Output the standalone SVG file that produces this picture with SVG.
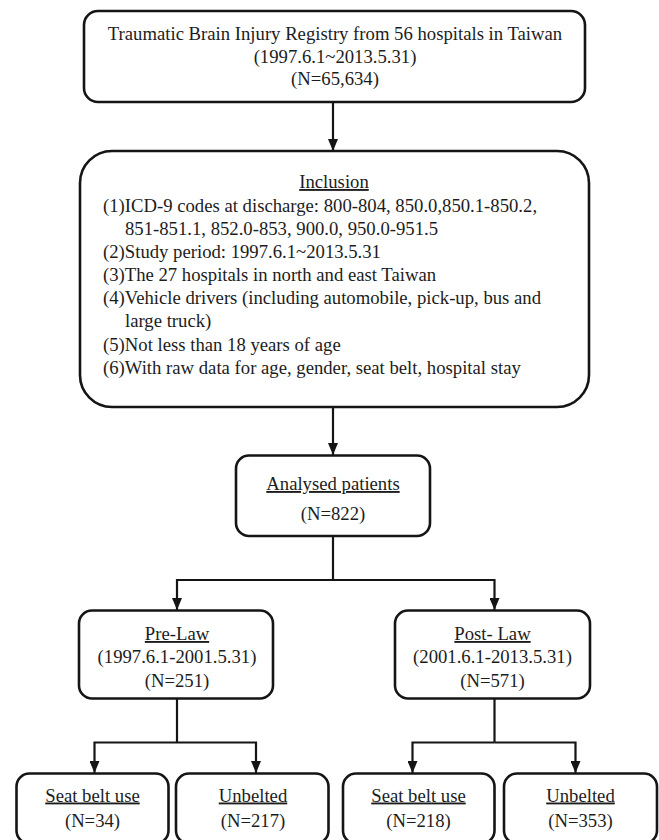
<svg xmlns="http://www.w3.org/2000/svg" width="659" height="840" viewBox="0 0 659 840">
<style>
  .box { fill: #ffffff; stroke: #151515; stroke-width: 2.6; }
  .t { font-family: "Liberation Serif", "Times New Roman", serif; font-size: 18.7px; fill: #1c1c1c; }
  .c { text-anchor: middle; }
  .u { text-decoration: underline; }
  .conn { fill: none; stroke: #151515; stroke-width: 2.2; }
  .arrow { fill: none; stroke: #151515; stroke-width: 2.2; marker-end: url(#ah); }
</style>
<defs>
  <marker id="ah" viewBox="0 0 12 10" refX="12" refY="5" markerWidth="12" markerHeight="10" markerUnits="userSpaceOnUse" orient="auto">
    <path d="M0,0 L12,5 L0,10 z" fill="#151515"/>
  </marker>
</defs>
<rect width="659" height="840" fill="#ffffff"/>

<g id="connectors">
  <line class="arrow" x1="333" y1="102" x2="333" y2="151"/>
  <line class="arrow" x1="333" y1="407" x2="333" y2="455"/>
  <polyline class="conn" points="333,536 333,580"/>
  <polyline class="arrow" points="333,580 177,580 177,610"/>
  <polyline class="arrow" points="333,580 494.5,580 494.5,610"/>
  <polyline class="conn" points="177,698 177,742.5"/>
  <polyline class="arrow" points="177,742.5 94.5,742.5 94.5,773"/>
  <polyline class="arrow" points="177,742.5 256,742.5 256,773"/>
  <polyline class="conn" points="494.5,698 494.5,742.5"/>
  <polyline class="arrow" points="494.5,742.5 412.5,742.5 412.5,773"/>
  <polyline class="arrow" points="494.5,742.5 575.5,742.5 575.5,773"/>
</g>

<g id="registry">
  <rect class="box" x="84" y="11" width="501" height="91" rx="14"/>
  <text class="t c" x="335" y="40">Traumatic Brain Injury Registry from 56 hospitals in Taiwan</text>
  <text class="t c" x="335" y="62.5">(1997.6.1~2013.5.31)</text>
  <text class="t c" x="335" y="85">(N=65,634)</text>
</g>

<g id="inclusion">
  <rect class="box" x="80" y="151" width="509" height="256" rx="32"/>
  <text class="t c u" x="334" y="188">Inclusion</text>
  <text class="t" x="103" y="211.5">(1)ICD-9 codes at discharge: 800-804, 850.0,850.1-850.2,</text>
  <text class="t" x="125" y="234.5">851-851.1, 852.0-853, 900.0, 950.0-951.5</text>
  <text class="t" x="103" y="257.5">(2)Study period: 1997.6.1~2013.5.31</text>
  <text class="t" x="103" y="281">(3)The 27 hospitals in north and east Taiwan</text>
  <text class="t" x="103" y="304">(4)Vehicle drivers (including automobile, pick-up, bus and</text>
  <text class="t" x="125" y="327">large truck)</text>
  <text class="t" x="103" y="350.5">(5)Not less than 18 years of age</text>
  <text class="t" x="103" y="374">(6)With raw data for age, gender, seat belt, hospital stay</text>
</g>

<g id="analysed">
  <rect class="box" x="236" y="455.5" width="194" height="80.5" rx="13"/>
  <text class="t c u" x="333" y="490">Analysed patients</text>
  <text class="t c" x="333" y="520">(N=822)</text>
</g>

<g id="prelaw">
  <rect class="box" x="79" y="610.5" width="194" height="88" rx="13"/>
  <text class="t c u" x="177" y="640">Pre-Law</text>
  <text class="t c" x="177" y="663">(1997.6.1-2001.5.31)</text>
  <text class="t c" x="177" y="686.5">(N=251)</text>
</g>

<g id="postlaw">
  <rect class="box" x="395" y="610.5" width="195" height="88" rx="13"/>
  <text class="t c u" x="492.5" y="640">Post- Law</text>
  <text class="t c" x="492.5" y="663">(2001.6.1-2013.5.31)</text>
  <text class="t c" x="492.5" y="686.5">(N=571)</text>
</g>

<g id="pre-belted">
  <rect class="box" x="16.5" y="773.5" width="152" height="70" rx="13"/>
  <text class="t c u" x="92.5" y="801.5">Seat belt use</text>
  <text class="t c" x="92.5" y="826.5">(N=34)</text>
</g>

<g id="pre-unbelted">
  <rect class="box" x="176" y="773.5" width="152.5" height="70" rx="13"/>
  <text class="t c u" x="253" y="801.5">Unbelted</text>
  <text class="t c" x="253" y="826.5">(N=217)</text>
</g>

<g id="post-belted">
  <rect class="box" x="343" y="773.5" width="151.5" height="70" rx="13"/>
  <text class="t c u" x="418.5" y="801.5">Seat belt use</text>
  <text class="t c" x="418.5" y="826.5">(N=218)</text>
</g>

<g id="post-unbelted">
  <rect class="box" x="504" y="773.5" width="153" height="70" rx="13"/>
  <text class="t c u" x="580.5" y="801.5">Unbelted</text>
  <text class="t c" x="580.5" y="826.5">(N=353)</text>
</g>
</svg>
